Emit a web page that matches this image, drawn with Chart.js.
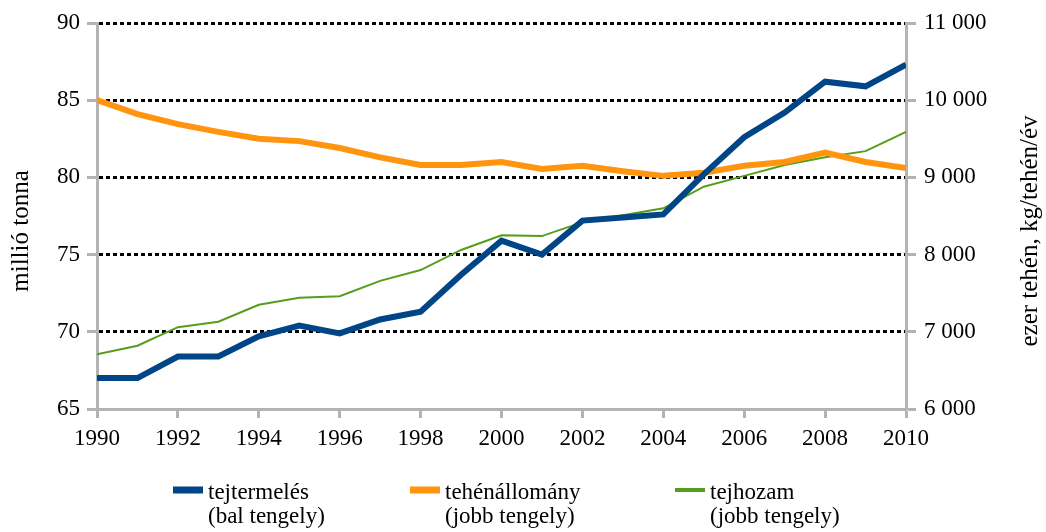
<!DOCTYPE html>
<html>
<head>
<meta charset="utf-8">
<script src="https://cdn.jsdelivr.net/npm/chart.js@4.4.1/dist/chart.umd.min.js"></script>
<style>
  html, body { margin: 0; padding: 0; background: #fff; }
  #wrap { width: 1046px; height: 532px; }
</style>
</head>
<body>
<div id="wrap"><canvas id="chart"></canvas></div>
<script>
const years = [1990, 1991, 1992, 1993, 1994, 1995, 1996, 1997, 1998, 1999, 2000,
  2001, 2002, 2003, 2004, 2005, 2006, 2007, 2008, 2009, 2010]

// millió tonna (bal tengely)
const tejtermeles = [67.0, 67.0, 68.4, 68.4, 69.7, 70.4, 69.9, 70.8, 71.3, 73.7, 75.9,
  75.0, 77.2, 77.4, 77.6, 80.2, 82.6, 84.2, 86.2, 85.9, 87.3]
// ezer tehén (jobb tengely)
const tehenallomany = [10000, 9820, 9690, 9590, 9500, 9470, 9380, 9260, 9160, 9160, 9200,
  9110, 9150, 9080, 9020, 9060, 9150, 9200, 9320, 9200, 9120]
// kg/tehén/év (jobb tengely)
const tejhozam = [6710, 6820, 7060, 7130, 7350, 7440, 7460, 7660, 7800, 8060, 8250,
  8240, 8420, 8510, 8600, 8880, 9020, 9160, 9260, 9340, 9590]

const seriesNames = [
  ["tejtermelés", "(bal tengely)"],
  ["tehénállomány", "(jobb tengely)"],
  ["tejhozam", "(jobb tengely)"]
]
const leftTitle = "millió tonna"
const rightTitle = "ezer tehén, kg/tehén/év"

const axisGray = '#b3b3b3'
const serif = "'Liberation Serif', 'DejaVu Serif', serif"

function points(values) {
  return values.map((v, i) => ({ x: years[i], y: v }))
}

function spaced(v) {
  return String(v).replace(/\B(?=(\d{3})+(?!\d))/g, ' ')
}

// axis titles (both read bottom-to-top) and the two-line legend under the chart
const extras = {
  id: 'extras',
  afterDraw(chart) {
    let ctx = chart.ctx
    let mid = 231
    ctx.save()
    ctx.fillStyle = '#000'
    ctx.font = "25px " + serif
    ctx.textAlign = 'center'
    ctx.textBaseline = 'middle'
    ctx.translate(21, mid)
    ctx.rotate(-Math.PI / 2)
    ctx.fillText(leftTitle, 0, 0)
    ctx.restore()

    ctx.save()
    ctx.fillStyle = '#000'
    ctx.font = "25px " + serif
    ctx.textAlign = 'center'
    ctx.textBaseline = 'middle'
    ctx.translate(1030, mid)
    ctx.rotate(-Math.PI / 2)
    ctx.fillText(rightTitle, 0, 0)
    ctx.restore()

    let boxX = [173, 410, 675]
    ctx.save()
    ctx.font = "23px " + serif
    ctx.textAlign = 'left'
    ctx.textBaseline = 'alphabetic'
    chart.data.datasets.forEach((ds, i) => {
      let h = ds.borderWidth > 3 ? 7 : 4
      ctx.fillStyle = ds.borderColor
      ctx.fillRect(boxX[i], 490 - h / 2, 30, h)
      ctx.fillStyle = '#000'
      seriesNames[i].forEach((line, j) => {
        ctx.fillText(line, boxX[i] + 35, 499 + j * 24)
      })
    })
    ctx.restore()
  }
}

let ctx = document.getElementById('chart').getContext('2d')
let myChart = new Chart(ctx, {
  type: 'line',
  data: {
    datasets: [{
      label: seriesNames[0].join(' '),
      data: points(tejtermeles),
      yAxisID: 'y',
      borderColor: '#004586',
      backgroundColor: '#004586',
      borderWidth: 6,
      pointRadius: 0,
      tension: 0,
      order: 1
    }, {
      label: seriesNames[1].join(' '),
      data: points(tehenallomany),
      yAxisID: 'y2',
      borderColor: '#ff950e',
      backgroundColor: '#ff950e',
      borderWidth: 6,
      pointRadius: 0,
      tension: 0,
      order: 2
    }, {
      label: seriesNames[2].join(' '),
      data: points(tejhozam),
      yAxisID: 'y2',
      borderColor: '#579d1c',
      backgroundColor: '#579d1c',
      borderWidth: 2,
      pointRadius: 0,
      tension: 0,
      order: 3
    }]
  },
  options: {
    responsive: true,
    maintainAspectRatio: false,
    animation: false,
    layout: { padding: { top: 23, bottom: 77 } },
    font: { family: serif, size: 23 },
    plugins: {
      legend: { display: false },
      tooltip: { enabled: false }
    },
    scales: {
      x: {
        type: 'linear',
        min: 1990,
        max: 2010,
        afterFit(scale) { scale.height = 46 },
        ticks: {
          stepSize: 2,
          color: '#000',
          padding: 7,
          font: { family: serif, size: 23 },
          callback: v => String(v)
        },
        grid: {
          drawOnChartArea: false,
          drawTicks: true,
          tickLength: 9,
          tickColor: axisGray,
          tickWidth: 3
        },
        border: { color: axisGray, width: 3 }
      },
      y: {
        position: 'left',
        min: 65,
        max: 90,
        afterFit(scale) { scale.width = 97 },
        ticks: {
          stepSize: 5,
          color: '#000',
          padding: 7,
          font: { family: serif, size: 23 }
        },
        grid: {
          color: c => c.tick && c.tick.value === 65 ? 'rgba(0,0,0,0)' : '#000',
          lineWidth: 3,
          drawTicks: true,
          tickLength: 10,
          tickColor: axisGray,
          tickWidth: 3
        },
        border: { color: axisGray, width: 3, dash: [4, 3] }
      },
      y2: {
        position: 'right',
        min: 6000,
        max: 11000,
        afterFit(scale) { scale.width = 140 },
        ticks: {
          stepSize: 1000,
          color: '#000',
          padding: 8,
          font: { family: serif, size: 23 },
          callback: v => spaced(v)
        },
        grid: {
          drawOnChartArea: false,
          drawTicks: true,
          tickLength: 10,
          tickColor: axisGray,
          tickWidth: 3
        },
        border: { color: axisGray, width: 3 }
      }
    }
  },
  plugins: [extras]
})
</script>
</body>
</html>
